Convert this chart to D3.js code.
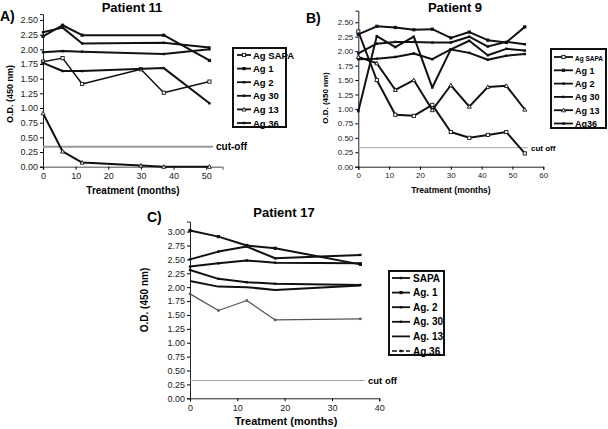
<!DOCTYPE html>
<html><head><meta charset="utf-8">
<script src="https://cdn.jsdelivr.net/npm/d3@7"></script>
<style>
body{margin:0;background:#fff;}
svg{font-family:"Liberation Sans",Arial,sans-serif;}
</style></head>
<body><svg id="c" width="608" height="429"></svg>
<script>
// ---------- DATA ----------
// Panel A: Patient 11
const monthsA = [0, 6, 12, 37, 51];
const monthsA_SAPA = [0, 6, 12, 30, 37, 51];
const monthsA_13 = [0, 6, 12, 30, 37, 51];
const seriesNamesA = ["Ag SAPA", "Ag 1", "Ag 2", "Ag 30", "Ag 13", "Ag 36"];
const A_SAPA = [1.79, 1.85, 1.41, 1.66, 1.26, 1.45];
const A_1 = [2.22, 2.41, 2.24, 2.24, 1.81];
const A_2 = [2.29, 2.37, 2.10, 2.11, 2.03];
const A_30 = [1.95, 1.97, 1.96, 1.92, 2.00];
const A_13 = [0.91, 0.26, 0.07, 0.02, 0.00, 0.00];
const A_36 = [1.77, 1.63, 1.63, 1.68, 1.08];
const cutA = 0.34;

// Panel B: Patient 9
const monthsB = [0, 6, 12, 18, 24, 30, 36, 42, 48, 54];
const seriesNamesB = ["Ag SAPA", "Ag 1", "Ag 2", "Ag 30", "Ag 13", "Ag36"];
const B_SAPA = [2.34, 1.50, 0.90, 0.88, 1.07, 0.60, 0.50, 0.55, 0.60, 0.23];
const B_1 = [2.29, 2.43, 2.41, 2.37, 2.38, 2.23, 2.33, 2.19, 2.15, 2.42];
const B_2 = [1.96, 2.13, 2.16, 2.16, 2.15, 2.15, 2.25, 2.08, 2.16, 2.12];
const B_30 = [1.86, 1.87, 1.90, 1.96, 1.86, 2.03, 1.97, 1.85, 1.92, 1.95];
const B_13 = [1.90, 1.79, 1.33, 1.50, 0.98, 1.41, 1.04, 1.38, 1.40, 0.99];
const B_36 = [0.96, 2.26, 2.07, 2.25, 1.37, 2.03, 2.18, 1.93, 2.04, 2.01];
const cutB = 0.33;

// Panel C: Patient 17
const monthsC = [0, 6, 12, 18, 36];
const seriesNamesC = ["SAPA", "Ag. 1", "Ag. 2", "Ag. 30", "Ag. 13", "Ag.36"];
const C_SAPA = [2.31, 2.15, 2.09, 2.06, 2.04];
const C_1 = [3.02, 2.91, 2.75, 2.70, 2.41];
const C_2 = [2.50, 2.64, 2.73, 2.52, 2.58];
const C_30 = [2.37, 2.43, 2.48, 2.44, 2.43];
const C_13 = [2.11, 2.01, 2.00, 1.95, 2.03];
const C_36 = [1.88, 1.58, 1.76, 1.41, 1.43];
const cutC = 0.32;

const ticksA = [0, 0.25, 0.5, 0.75, 1, 1.25, 1.5, 1.75, 2, 2.25, 2.5];
const ticksC = [0, 0.25, 0.5, 0.75, 1, 1.25, 1.5, 1.75, 2, 2.25, 2.5, 2.75, 3];

// ---------- DRAW ----------
const svg = d3.select("#c");
const fmt = d3.format(".2f");

function panel(cfg) {
  const x = d3.scaleLinear().domain(cfg.xDomain).range([cfg.x0, cfg.x1]);
  const y = d3.scaleLinear().domain(cfg.yDomain).range([cfg.y0, cfg.y1]);
  const g = svg.append("g");

  // axes
  const ya = g.append("g").attr("transform", `translate(${cfg.x0},0)`)
    .call(d3.axisLeft(y).tickValues(cfg.yTicks).tickFormat(fmt).tickSize(3).tickPadding(2));
  ya.selectAll("text").attr("font-size", cfg.tickFont).attr("fill", "#222");
  const xa = g.append("g").attr("transform", `translate(0,${cfg.y0})`)
    .call(d3.axisBottom(x).tickValues(cfg.xTicks).tickSize(3).tickPadding(3));
  xa.selectAll("text").attr("font-size", cfg.tickFont).attr("fill", "#222");
  g.selectAll(".domain").attr("stroke", "#222").attr("stroke-width", 1);
  if (cfg.xDomainColor) xa.select(".domain").attr("stroke", cfg.xDomainColor).attr("stroke-width", 1.5);

  // cut-off
  g.append("line").attr("x1", cfg.x0).attr("x2", cfg.cutX2)
    .attr("y1", y(cfg.cut)).attr("y2", y(cfg.cut))
    .attr("stroke", cfg.cutColor).attr("stroke-width", cfg.cutWidth);
  g.append("text").attr("x", cfg.cutX2 + 3).attr("y", y(cfg.cut) + 3)
    .attr("font-size", cfg.cutFont).attr("font-weight", "bold").text(cfg.cutLabel);

  // series
  const line = d3.line().x(d => x(d[0])).y(d => y(d[1]));
  cfg.series.forEach(s => {
    const pts = s.months.map((m, i) => [m, s.values[i]]);
    g.append("path").datum(pts).attr("d", line).attr("fill", "none")
      .attr("stroke", s.color || "#111").attr("stroke-width", s.width || 2)
      .attr("stroke-linejoin", "round");
    pts.forEach(p => marker(g, s.marker, x(p[0]), y(p[1]), s.color || "#111"));
  });

  // titles
  g.append("text").attr("x", cfg.titleX).attr("y", cfg.titleY).attr("text-anchor", "middle")
    .attr("font-size", 13).attr("font-weight", "bold").text(cfg.title);
  g.append("text").attr("x", cfg.letterX).attr("y", cfg.letterY)
    .attr("font-size", 14).attr("font-weight", "bold").text(cfg.letter);
  g.append("text").attr("transform", `translate(${cfg.ylabX},${cfg.ylabY}) rotate(-90)`)
    .attr("text-anchor", "middle").attr("font-size", cfg.ylabFont).attr("font-weight", "bold")
    .text("O.D. (450 nm)");
  g.append("text").attr("x", cfg.xlabX).attr("y", cfg.xlabY).attr("text-anchor", "middle")
    .attr("font-size", cfg.xlabFont).attr("font-weight", "bold").text("Treatment (months)");

  // legend
  const L = cfg.legend;
  g.append("rect").attr("x", L.x).attr("y", L.y).attr("width", L.w).attr("height", L.h)
    .attr("fill", "#fff").attr("stroke", "#111").attr("stroke-width", 2);
  cfg.series.forEach((s, i) => {
    const yy = L.y + L.first + i * L.step;
    g.append("line").attr("x1", L.x + L.lx0).attr("x2", L.x + L.lx1).attr("y1", yy).attr("y2", yy)
      .attr("stroke", "#111").attr("stroke-width", s.legendWidth || 1.8)
      .attr("stroke-dasharray", s.dash || null);
    marker(g, s.marker, L.x + (L.lx0 + L.lx1) / 2, yy, "#111");
    g.append("text").attr("x", L.x + L.tx).attr("y", yy + 3.5)
      .attr("font-size", (s.legendFont || L.font)).attr("font-weight", "bold").text(s.name);
  });
}

function marker(g, type, cx, cy, col) {
  if (type === "open") {
    g.append("rect").attr("x", cx - 1.6).attr("y", cy - 1.6).attr("width", 3.2).attr("height", 3.2)
      .attr("fill", "#fff").attr("stroke", col).attr("stroke-width", 0.9);
  } else if (type === "square") {
    g.append("rect").attr("x", cx - 1.6).attr("y", cy - 1.6).attr("width", 3.2).attr("height", 3.2).attr("fill", col);
  } else if (type === "tri") {
    g.append("path").attr("d", `M${cx},${cy - 2}L${cx + 2},${cy + 1.6}L${cx - 2},${cy + 1.6}Z`)
      .attr("fill", "#fff").attr("stroke", col).attr("stroke-width", 0.9);
  } else if (type === "dot") {
    g.append("rect").attr("x", cx - 1.2).attr("y", cy - 1.2).attr("width", 2.4).attr("height", 2.4).attr("fill", col);
  }
}

panel({
  xDomain: [0, 55], x0: 43, x1: 222.5, yDomain: [0, 2.6], y0: 166.7, y1: 14.1,
  yTicks: ticksA, xTicks: [0, 10, 20, 30, 40, 50], tickFont: 9,
  xDomainColor: "#888",
  cut: cutA, cutX2: 213, cutColor: "#999", cutWidth: 2, cutFont: 10, cutLabel: "cut-off",
  title: "Patient 11", titleX: 132, titleY: 12, letter: "A)", letterX: 0, letterY: 21,
  ylabX: 13, ylabY: 94, ylabFont: 9, xlabX: 133, xlabY: 194, xlabFont: 10,
  legend: { x: 233, y: 48, w: 53, h: 79, first: 7, step: 13.6, lx0: 4, lx1: 18, tx: 20, font: 9.5 },
  series: [
    { name: seriesNamesA[0], months: monthsA_SAPA, values: A_SAPA, marker: "open", width: 1.5 },
    { name: seriesNamesA[1], months: monthsA, values: A_1, marker: "square" },
    { name: seriesNamesA[2], months: monthsA, values: A_2, marker: "dot" },
    { name: seriesNamesA[3], months: monthsA, values: A_30, marker: "dot" },
    { name: seriesNamesA[4], months: monthsA_13, values: A_13, marker: "tri" },
    { name: seriesNamesA[5], months: monthsA, values: A_36, marker: "dot" }
  ]
});

panel({
  xDomain: [0, 60], x0: 358.3, x1: 543.3, yDomain: [0, 2.7], y0: 166.7, y1: 10.7,
  yTicks: ticksA, xTicks: [0, 10, 20, 30, 40, 50, 60], tickFont: 8,
  cut: cutB, cutX2: 528, cutColor: "#aaa", cutWidth: 1, cutFont: 8, cutLabel: "cut off",
  title: "Patient 9", titleX: 455, titleY: 12, letter: "B)", letterX: 306, letterY: 23,
  ylabX: 328, ylabY: 98, ylabFont: 8, xlabX: 451, xlabY: 193, xlabFont: 8.5,
  legend: { x: 551, y: 49, w: 55, h: 79, first: 8, step: 13.3, lx0: 3, lx1: 22, tx: 24, font: 9 },
  series: [
    { name: seriesNamesB[0], months: monthsB, values: B_SAPA, marker: "open", legendFont: 6.5 },
    { name: seriesNamesB[1], months: monthsB, values: B_1, marker: "square" },
    { name: seriesNamesB[2], months: monthsB, values: B_2, marker: "dot" },
    { name: seriesNamesB[3], months: monthsB, values: B_30, marker: "dot" },
    { name: seriesNamesB[4], months: monthsB, values: B_13, marker: "tri" },
    { name: seriesNamesB[5], months: monthsB, values: B_36, marker: "dot" }
  ]
});

panel({
  xDomain: [0, 40], x0: 190, x1: 379.3, yDomain: [0, 3.18], y0: 398.3, y1: 221.6,
  yTicks: ticksC, xTicks: [0, 10, 20, 30, 40], tickFont: 9,
  cut: cutC, cutX2: 365, cutColor: "#aaa", cutWidth: 1, cutFont: 9.5, cutLabel: "cut off",
  title: "Patient 17", titleX: 284, titleY: 217, letter: "C)", letterX: 147, letterY: 222,
  ylabX: 148, ylabY: 300, ylabFont: 10, xlabX: 286, xlabY: 425, xlabFont: 11,
  legend: { x: 389, y: 271, w: 55, h: 84, first: 7, step: 14.6, lx0: 3, lx1: 21, tx: 24, font: 10 },
  series: [
    { name: seriesNamesC[0], months: monthsC, values: C_SAPA, marker: "dot" },
    { name: seriesNamesC[1], months: monthsC, values: C_1, marker: "square" },
    { name: seriesNamesC[2], months: monthsC, values: C_2, marker: "dot" },
    { name: seriesNamesC[3], months: monthsC, values: C_30, marker: "dot" },
    { name: seriesNamesC[4], months: monthsC, values: C_13, marker: "none" },
    { name: seriesNamesC[5], months: monthsC, values: C_36, marker: "dot", color: "#555", width: 1.3, dash: "5,2", legendWidth: 1.3 }
  ]
});
</script></body></html>
